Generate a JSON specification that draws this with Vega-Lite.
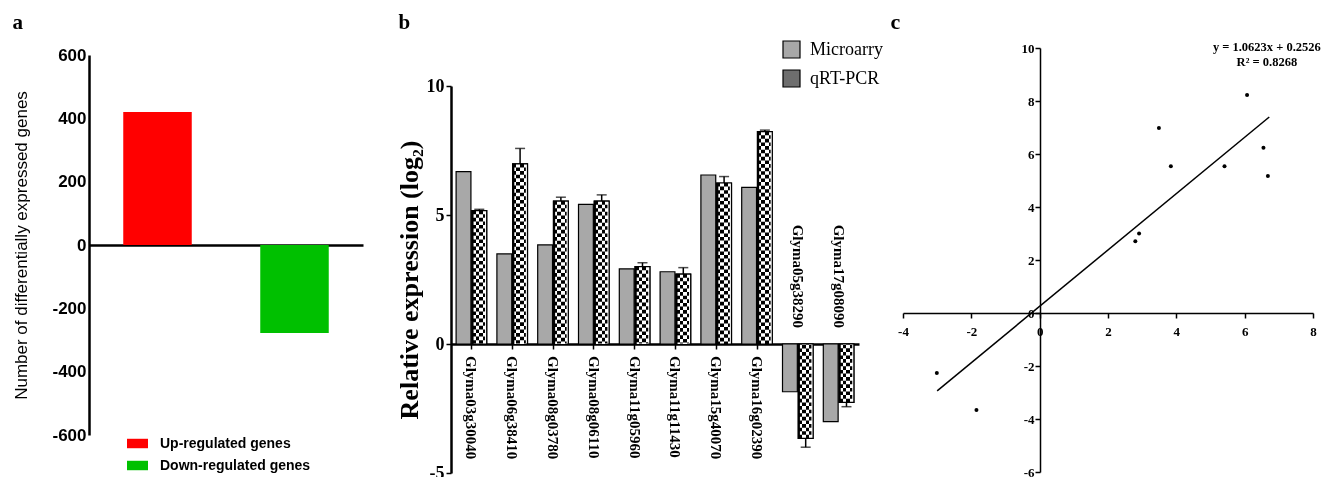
{
  "$schema": "https://vega.github.io/schema/vega-lite/v6.json",
  "width": 1333,
  "height": 477,
  "autosize": {"type": "none"},
  "padding": 0,
  "background": "white",
  "config": {
    "view": {"stroke": null},
    "axis": {"grid": false, "domainColor": "black", "tickColor": "black", "labelColor": "black", "titleColor": "black", "zindex": 1},
    "legend": {"padding": 0, "labelColor": "black"}
  },
  "datasets": {
    "deg": [
      {"type": "Up-regulated genes", "count": 420},
      {"type": "Down-regulated genes", "count": -278}
    ],
    "expr": [
      {"gene": "Glyma03g30040", "Microarry": 6.68, "qRT-PCR": 5.17, "qRT_err": 5.22},
      {"gene": "Glyma06g38410", "Microarry": 3.49, "qRT-PCR": 6.98, "qRT_err": 7.58},
      {"gene": "Glyma08g03780", "Microarry": 3.84, "qRT-PCR": 5.54, "qRT_err": 5.69},
      {"gene": "Glyma08g06110", "Microarry": 5.41, "qRT-PCR": 5.54, "qRT_err": 5.78},
      {"gene": "Glyma11g05960", "Microarry": 2.91, "qRT-PCR": 3.0, "qRT_err": 3.15},
      {"gene": "Glyma11g11430", "Microarry": 2.8, "qRT-PCR": 2.71, "qRT_err": 2.96},
      {"gene": "Glyma15g40070", "Microarry": 6.55, "qRT-PCR": 6.24, "qRT_err": 6.49},
      {"gene": "Glyma16g02390", "Microarry": 6.07, "qRT-PCR": 8.23, "qRT_err": 8.29},
      {"gene": "Glyma05g38290", "Microarry": -1.85, "qRT-PCR": -3.66, "qRT_err": -4.0},
      {"gene": "Glyma17g08090", "Microarry": -3.01, "qRT-PCR": -2.26, "qRT_err": -2.43}
    ]
  },
  "layer": [
    {
      "data": {"name": "deg"},
      "mark": {"type": "bar"},
      "encoding": {
        "x": {
          "field": "type", "type": "nominal", "sort": null,
          "scale": {"range": [89, 363], "paddingInner": 0.5, "paddingOuter": 0.25},
          "axis": {"orient": "bottom", "offset": -232, "labels": false, "ticks": false, "domainWidth": 2.5,
            "title": "a", "titleX": 12, "titleY": -217, "titleAlign": "left", "titleBaseline": "alphabetic", "titleAnchor": null,
            "titleFont": "Liberation Serif", "titleFontSize": 21, "titleFontWeight": "bold"}
        },
        "y": {
          "field": "count", "type": "quantitative",
          "scale": {"domain": [-600, 600], "range": [435, 55], "nice": false},
          "axis": {"orient": "left", "offset": -89, "values": [-600, -400, -200, 0, 200, 400, 600], "labelExpr": "'' + datum.value", "ticks": false, "tickSize": 0,
            "domainWidth": 2.5, "labelFont": "Liberation Sans", "labelFontSize": 17, "labelFontWeight": "bold", "labelPadding": 3,
            "title": "Number of differentially expressed genes", "titleFont": "Liberation Sans", "titleFontSize": 17, "titleFontWeight": 500, "titlePadding": 21}
        },
        "color": {
          "field": "type", "type": "nominal", "sort": null,
          "scale": {"domain": ["Up-regulated genes", "Down-regulated genes"], "range": ["#ff0000", "#00c000"]},
          "legend": {"orient": "none", "legendX": 127, "legendY": 433, "title": null, "symbolType": "M-1,-0.45H1V0.45H-1Z", "symbolSize": 441,
            "symbolStrokeWidth": 0, "labelFont": "Liberation Sans", "labelFontSize": 14, "labelFontWeight": "bold", "labelOffset": 12, "rowPadding": 4}
        }
      }
    },
    {
      "data": {"name": "expr"},
      "encoding": {
        "x": {
          "field": "gene", "type": "nominal", "sort": null,
          "scale": {"range": [451, 859], "paddingInner": 0.25, "paddingOuter": 0.125},
          "axis": {"orient": "bottom", "offset": -133, "labels": false, "tickSize": 5, "tickWidth": 1.5, "domainWidth": 2.5,
            "title": "b", "titleX": 398, "titleY": -316, "titleAlign": "left", "titleBaseline": "alphabetic", "titleAnchor": null,
            "titleFont": "Liberation Serif", "titleFontSize": 21, "titleFontWeight": "bold"}
        }
      },
      "layer": [
        {
          "transform": [{"fold": ["Microarry", "qRT-PCR"], "as": ["method", "value"]}],
          "mark": {"type": "bar", "stroke": "black", "strokeWidth": 1.2},
          "encoding": {
            "xOffset": {"field": "method", "type": "nominal", "scale": {"domain": ["Microarry", "qRT-PCR"], "paddingInner": 0.06}},
            "y": {
              "field": "value", "type": "quantitative",
              "scale": {"domain": [-5, 10], "range": [473, 86], "nice": false, "zero": false},
              "axis": {"orient": "left", "offset": -451, "values": [-5, 0, 5, 10], "labelExpr": "'' + datum.value", "tickSize": 5, "tickWidth": 1.5, "domainWidth": 2.5,
                "labelFont": "Liberation Serif", "labelFontSize": 18, "labelFontWeight": "bold", "labelPadding": 2,
                "title": "Relative expression (log₂)", "titleFont": "Liberation Serif", "titleFontSize": 26, "titleFontWeight": "bold", "titlePadding": 4}
            },
            "fill": {
              "field": "method", "type": "nominal",
              "scale": {"domain": ["Microarry", "qRT-PCR"], "range": ["#a8a8a8", "#6e6e6e"]},
              "legend": {"orient": "none", "legendX": 782, "legendY": 40, "title": null, "symbolType": "square", "symbolSize": 289,
                "symbolStrokeColor": "black", "symbolStrokeWidth": 1.2, "labelFont": "Liberation Serif", "labelFontSize": 18, "labelOffset": 9, "rowPadding": 6}
            }
          }
        },
        {
          "transform": [{"fold": ["Microarry", "qRT-PCR"], "as": ["method", "value"]}, {"filter": "datum.method === 'qRT-PCR'"}],
          "mark": {"type": "bar", "stroke": "black", "strokeWidth": 1.2,
            "fill": {"gradient": "linear", "x1": 0, "y1": 0, "x2": 1, "y2": 0, "stops": [
              {"offset": 0, "color": "#000000"}, {"offset": 0.25, "color": "#000000"},
              {"offset": 0.25, "color": "#ffffff"}, {"offset": 0.5, "color": "#ffffff"},
              {"offset": 0.5, "color": "#000000"}, {"offset": 0.75, "color": "#000000"},
              {"offset": 0.75, "color": "#ffffff"}, {"offset": 1, "color": "#ffffff"}]}},
          "encoding": {
            "xOffset": {"field": "method", "type": "nominal"},
            "y": {"field": "value", "type": "quantitative"}
          }
        },
        {
          "transform": [{"fold": ["Microarry", "qRT-PCR"], "as": ["method", "value"]}, {"filter": "datum.method === 'qRT-PCR'"}],
          "mark": {"type": "rule", "color": "white", "strokeWidth": 11.5, "strokeDash": [3.6, 3.6], "strokeDashOffset": 3.6, "strokeCap": "butt", "blend": "difference"},
          "encoding": {
            "xOffset": {"field": "method", "type": "nominal"},
            "y": {"field": "value", "type": "quantitative"},
            "y2": {"datum": 0}
          }
        },
        {
          "transform": [{"fold": ["Microarry", "qRT-PCR"], "as": ["method", "value"]}, {"filter": "datum.method === 'qRT-PCR'"}],
          "mark": {"type": "rule", "color": "black", "strokeWidth": 1.5},
          "encoding": {
            "xOffset": {"field": "method", "type": "nominal"},
            "y": {"field": "value", "type": "quantitative"},
            "y2": {"field": "qRT_err"}
          }
        },
        {
          "transform": [{"fold": ["Microarry", "qRT-PCR"], "as": ["method", "value"]}, {"filter": "datum.method === 'qRT-PCR'"}],
          "mark": {"type": "tick", "orient": "horizontal", "color": "black", "thickness": 1.5, "size": 10},
          "encoding": {
            "xOffset": {"field": "method", "type": "nominal"},
            "y": {"field": "qRT_err", "type": "quantitative"}
          }
        },
        {
          "transform": [{"filter": "datum['qRT-PCR'] > 0"}],
          "mark": {"type": "text", "angle": 90, "align": "left", "baseline": "middle", "dx": 12, "font": "Liberation Serif", "fontWeight": "bold", "fontSize": 15, "color": "black"},
          "encoding": {"y": {"datum": 0}, "text": {"field": "gene"}}
        },
        {
          "transform": [{"filter": "datum['qRT-PCR'] < 0"}],
          "mark": {"type": "text", "angle": 90, "align": "right", "baseline": "middle", "dx": -16, "font": "Liberation Serif", "fontWeight": "bold", "fontSize": 15, "color": "black"},
          "encoding": {"y": {"datum": 0}, "text": {"field": "gene"}}
        }
      ]
    },
    {
      "layer": [
        {
          "data": {"name": "expr"},
          "mark": {"type": "circle", "size": 16, "color": "black", "opacity": 1},
          "encoding": {
            "x": {
              "field": "Microarry", "type": "quantitative",
              "scale": {"domain": [-4, 8], "range": [903, 1313], "nice": false, "zero": false},
              "axis": {"orient": "bottom", "offset": -164, "values": [-4, -2, 0, 2, 4, 6, 8], "labelExpr": "'' + datum.value", "tickSize": 5, "tickWidth": 1.5, "domainWidth": 1.5,
                "labelFont": "Liberation Serif", "labelFontSize": 13, "labelFontWeight": "bold", "labelPadding": 7, "labelFlush": false, "labelOverlap": false,
                "title": "c", "titleX": 890, "titleY": -285, "titleAlign": "left", "titleBaseline": "alphabetic", "titleAnchor": null,
                "titleFont": "Liberation Serif", "titleFontSize": 22, "titleFontWeight": "bold"}
            },
            "y": {
              "field": "qRT-PCR", "type": "quantitative",
              "scale": {"domain": [-6, 10], "range": [472, 48], "nice": false, "zero": false},
              "axis": {"orient": "left", "offset": -1040, "values": [-6, -4, -2, 0, 2, 4, 6, 8, 10], "labelExpr": "'' + datum.value", "tickSize": 5, "tickWidth": 1.5, "domainWidth": 1.5,
                "labelFont": "Liberation Serif", "labelFontSize": 13, "labelFontWeight": "bold", "labelPadding": 1, "labelOverlap": false, "title": null}
            }
          }
        },
        {
          "data": {"name": "expr"},
          "transform": [{"regression": "qRT-PCR", "on": "Microarry", "extent": [-3.0, 6.72]}],
          "mark": {"type": "line", "color": "black", "strokeWidth": 1.5},
          "encoding": {
            "x": {"field": "Microarry", "type": "quantitative"},
            "y": {"field": "qRT-PCR", "type": "quantitative"}
          }
        },
        {
          "data": {"values": [{"label": "y = 1.0623x + 0.2526\nR² = 0.8268"}]},
          "mark": {"type": "text", "font": "Liberation Serif", "fontWeight": "bold", "fontSize": 12.5, "lineHeight": 15, "lineBreak": "\n", "align": "center", "baseline": "top", "color": "black"},
          "encoding": {
            "x": {"datum": 6.65, "type": "quantitative"},
            "y": {"datum": 10.26, "type": "quantitative"},
            "text": {"field": "label"}
          }
        }
      ]
    }
  ],
  "resolve": {
    "scale": {"x": "independent", "y": "independent", "color": "independent", "fill": "independent"},
    "axis": {"x": "independent", "y": "independent"},
    "legend": {"color": "independent", "fill": "independent"}
  }
}
